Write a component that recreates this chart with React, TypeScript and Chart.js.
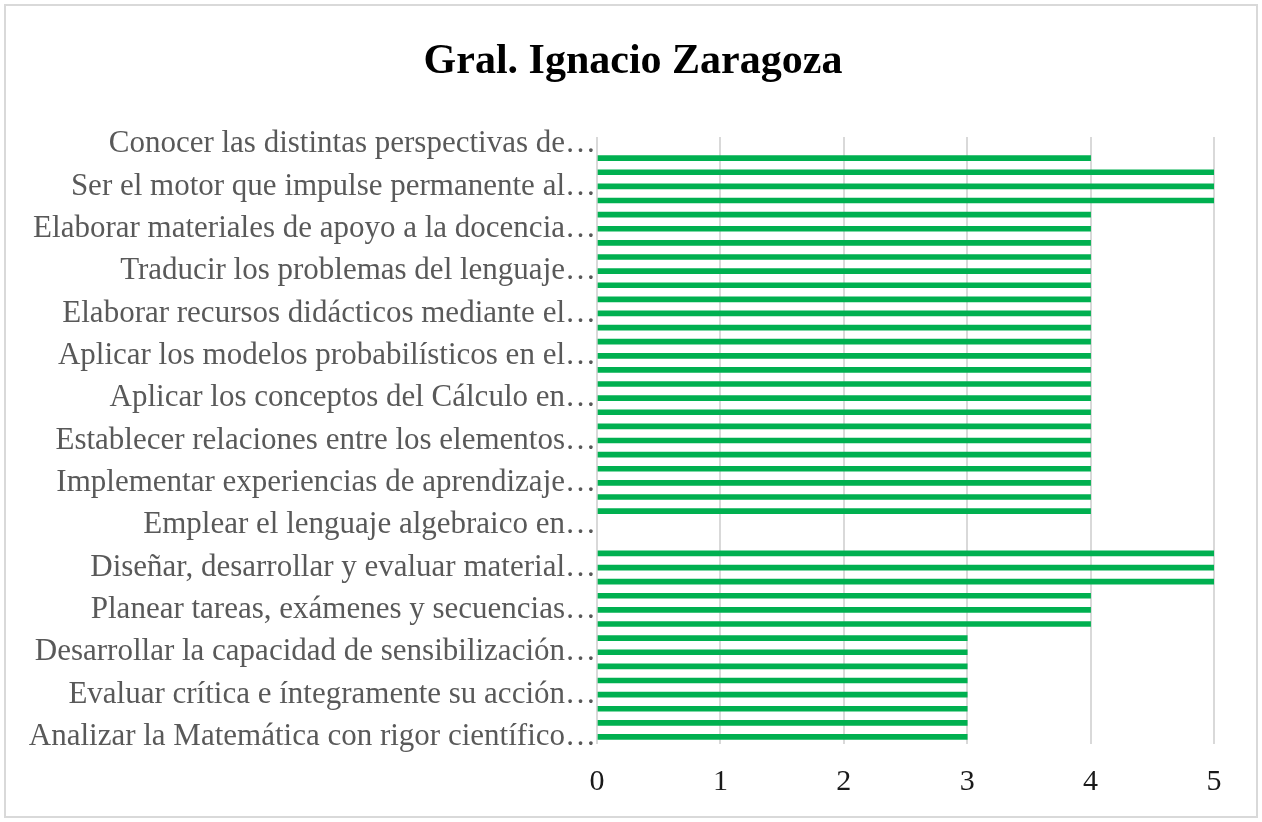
import React, { useEffect, useRef } from "react";
import { Chart, registerables } from "chart.js";

Chart.register(...registerables);

const TITLE = "Gral. Ignacio Zaragoza";

// Visible axis labels (every third category, top to bottom)
const visibleLabels = [
  "Conocer las distintas perspectivas de…",
  "Ser el motor que impulse permanente al…",
  "Elaborar materiales de apoyo a la docencia…",
  "Traducir los problemas del lenguaje…",
  "Elaborar recursos didácticos mediante el…",
  "Aplicar los modelos probabilísticos en el…",
  "Aplicar los conceptos del Cálculo en…",
  "Establecer relaciones entre los elementos…",
  "Implementar experiencias de aprendizaje…",
  "Emplear el lenguaje algebraico en…",
  "Diseñar, desarrollar y evaluar material…",
  "Planear tareas, exámenes y secuencias…",
  "Desarrollar la capacidad de sensibilización…",
  "Evaluar crítica e íntegramente su acción…",
  "Analizar la Matemática con rigor científico…",
];

// Values per category, top to bottom (43 categories)
const values: (number | null)[] = [
  null, 4, 5, 5, 5, 4, 4, 4, 4, 4,
  4, 4, 4, 4, 4, 4, 4, 4, 4, 4,
  4, 4, 4, 4, 4, 4, 4, null, null, 5,
  5, 5, 4, 4, 4, 3, 3, 3, 3, 3,
  3, 3, 3,
];

const xTicks = [0, 1, 2, 3, 4, 5];

const categories = values.map((_, i) =>
  i % 3 === 0 ? visibleLabels[i / 3] : ""
);

const centeredTitle = {
  id: "centeredTitle",
  afterDraw(chart: any) {
    const { ctx, width } = chart;
    ctx.save();
    ctx.fillStyle = "#000000";
    ctx.font = "bold 42px 'Liberation Serif', serif";
    ctx.textAlign = "center";
    ctx.textBaseline = "middle";
    ctx.fillText(TITLE, width / 2 + 2, 62);
    ctx.restore();
  },
};

export default function App() {
  const ref = useRef<HTMLCanvasElement | null>(null);

  useEffect(() => {
    document.body.style.margin = "0";
    const ctx = ref.current;
    if (!ctx) return;
    const chart = new Chart(ctx, {
      type: "bar",
      data: {
        labels: categories,
        datasets: [
          {
            data: values,
            backgroundColor: "#00B050",
            barThickness: 5,
          },
        ],
      },
      plugins: [centeredTitle],
      options: {
        indexAxis: "y",
        animation: false,
        responsive: false,
        maintainAspectRatio: false,
        layout: { padding: { left: 0, right: 48, top: 137, bottom: 2 } },
        plugins: {
          legend: { display: false },
          tooltip: { enabled: false },
          title: { display: false },
        },
        scales: {
          x: {
            min: 0,
            max: 5,
            afterBuildTicks: (s: any) => {
              s.ticks = xTicks.map((v) => ({ value: v }));
            },
            grid: { color: "#d9d9d9", lineWidth: 2, drawTicks: false },
            border: { display: false },
            ticks: {
              color: "#1a1a1a",
              padding: 20,
              font: { family: "'Liberation Serif', serif", size: 30, lineHeight: 1.2 },
            },
          },
          y: {
            grid: { display: false, drawTicks: false },
            border: { display: false },
            afterFit: (s: any) => {
              s.width = 597;
            },
            ticks: {
              autoSkip: false,
              color: "#595959",
              padding: 1,
              font: { family: "'Liberation Serif', serif", size: 31, lineHeight: 1.2 },
            },
          },
        },
      },
    });
    return () => chart.destroy();
  }, []);

  return (
    <div style={{ position: "absolute", left: 0, top: 0, width: 1262, height: 822, background: "#fff" }}>
      <canvas ref={ref} width={1262} height={822} style={{ position: "absolute", left: 0, top: 0 }} />
      <div
        style={{
          position: "absolute",
          left: 4,
          top: 4,
          width: 1254,
          height: 814,
          boxSizing: "border-box",
          border: "2px solid #d9d9d9",
          pointerEvents: "none",
        }}
      />
    </div>
  );
}
